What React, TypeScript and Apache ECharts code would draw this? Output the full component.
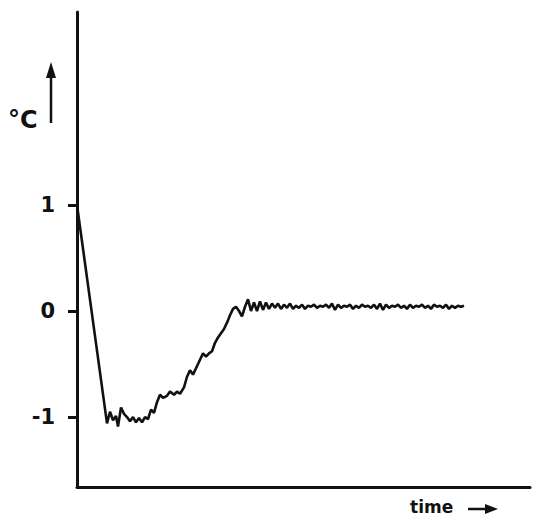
import React, { useEffect, useRef } from "react";
import * as echarts from "echarts";

const yTicks = [-1, 0, 1];

const riseTimes = [
  0, 30, 33, 36, 39, 41, 44, 47, 50, 53, 56, 59, 62, 65, 68, 71, 74, 77, 80, 83, 86, 90, 93, 97,
  100, 103, 107, 110, 113, 116, 119, 123, 126, 129, 132, 135, 138, 141, 144, 147, 150, 153, 156,
  159, 162, 165, 168, 171, 174, 177, 180, 183, 186, 189, 192, 195,
];
const riseTemps = [
  1.0, -1.06, -0.95, -1.03, -0.99, -1.09, -0.91, -0.97, -1.0, -1.04, -1.0, -1.05, -1.01, -1.05,
  -1.0, -1.02, -0.93, -0.96, -0.86, -0.79, -0.82, -0.8, -0.76, -0.79, -0.76, -0.78, -0.72, -0.62,
  -0.56, -0.6, -0.54, -0.46, -0.4, -0.43, -0.4, -0.38, -0.3, -0.25, -0.21, -0.17, -0.11, -0.04,
  0.02, 0.04, 0.0, -0.05, 0.04, 0.11, 0.0, 0.08, 0.0, 0.09, 0.01, 0.08, 0.02, 0.07,
];

const flatTimes = [
  198, 201, 204, 207, 210, 213, 216, 219, 222, 225, 228, 231, 234, 237, 240, 243, 246, 249, 252,
  255, 258, 261, 264, 267, 270, 273, 276, 279, 282, 285, 288, 291, 294, 297, 300, 303, 306, 309,
  312, 315, 318, 321, 324, 327, 330, 333, 336, 339, 342, 345, 348, 351, 354, 357, 360, 363, 366,
  369, 372, 375, 378, 381, 384, 387,
];
const flatTemps = [
  0.03, 0.07, 0.02, 0.06, 0.03, 0.07, 0.02, 0.05, 0.03, 0.06, 0.02, 0.05, 0.04, 0.06, 0.03, 0.05,
  0.04, 0.06, 0.03, 0.07, 0.01, 0.06, 0.03, 0.05, 0.04, 0.06, 0.02, 0.05, 0.03, 0.06, 0.04, 0.05,
  0.03, 0.06, 0.02, 0.07, 0.01, 0.06, 0.03, 0.05, 0.04, 0.06, 0.03, 0.05, 0.02, 0.06, 0.03, 0.05,
  0.04, 0.06, 0.03, 0.05, 0.02, 0.06, 0.04, 0.05, 0.03, 0.06, 0.02, 0.05, 0.03, 0.05, 0.04, 0.05,
];

export default function App() {
  const ref = useRef<HTMLDivElement>(null);
  useEffect(() => {
    if (!ref.current) return;
    const chart = echarts.init(ref.current, null, { renderer: "svg" });
    const times = riseTimes.concat(flatTimes);
    const temps = riseTemps.concat(flatTemps);
    const data = times.map((t, i) => [t, temps[i]]);
    const font = "DejaVu Sans";
    chart.setOption({
      animation: false,
      backgroundColor: "#fff",
      grid: { left: 77, right: 6, top: 12, bottom: 35 },
      xAxis: {
        type: "value",
        min: 0,
        max: 453,
        axisLine: { show: true, onZero: false, lineStyle: { color: "#111", width: 3 } },
        axisTick: { show: false },
        axisLabel: { show: false },
        splitLine: { show: false },
      },
      yAxis: {
        type: "value",
        min: -1.66,
        max: 2.82,
        axisLine: { show: true, onZero: false, lineStyle: { color: "#111", width: 3 } },
        axisTick: {
          show: true,
          length: 9,
          lineStyle: { color: "#111", width: 3 },
          customValues: yTicks,
        },
        axisLabel: {
          show: true,
          customValues: yTicks,
          margin: 22,
          color: "#111",
          fontFamily: font,
          fontWeight: "bold",
          fontSize: 21,
        },
        splitLine: { show: false },
      },
      series: [
        {
          type: "line",
          data,
          showSymbol: false,
          symbol: "none",
          lineStyle: { color: "#111", width: 2.6 },
        },
      ],
      graphic: [
        {
          type: "text",
          left: 8,
          top: 108,
          style: { text: "°C", fill: "#111", font: `bold 24px ${font}` },
        },
        {
          type: "line",
          shape: { x1: 51, y1: 123, x2: 51, y2: 74 },
          style: { stroke: "#111", lineWidth: 2.5 },
        },
        {
          type: "polygon",
          shape: { points: [[51, 62], [46, 78], [56, 78]] },
          style: { fill: "#111" },
        },
        {
          type: "text",
          left: 410,
          top: 498,
          style: { text: "time", fill: "#111", font: `bold 17px ${font}` },
        },
        {
          type: "line",
          shape: { x1: 468, y1: 509, x2: 488, y2: 509 },
          style: { stroke: "#111", lineWidth: 2.5 },
        },
        {
          type: "polygon",
          shape: { points: [[498, 509], [485, 504], [485, 514]] },
          style: { fill: "#111" },
        },
      ],
    });
    return () => chart.dispose();
  }, []);
  return (
    <div
      ref={ref}
      style={{ position: "fixed", left: 0, top: 0, width: 536, height: 522, background: "#fff" }}
    />
  );
}
